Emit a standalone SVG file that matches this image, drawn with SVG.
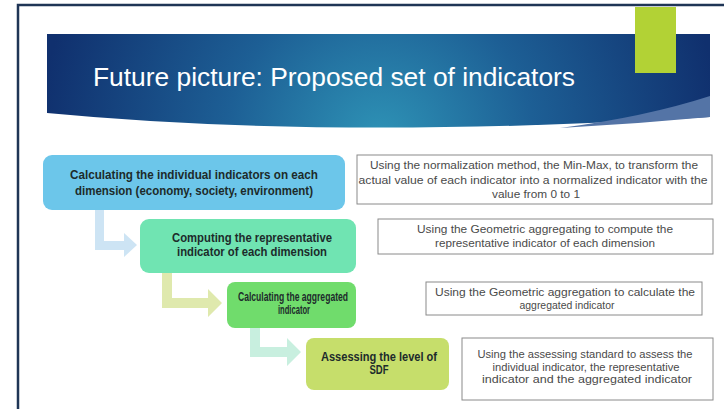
<svg xmlns="http://www.w3.org/2000/svg" width="724" height="409" viewBox="0 0 724 409">
<defs>
<radialGradient id="bg" gradientUnits="userSpaceOnUse" cx="380" cy="140" r="340">
<stop offset="0" stop-color="#2e93b6"/>
<stop offset="0.45" stop-color="#1d5f95"/>
<stop offset="1" stop-color="#10306e"/>
</radialGradient>
<style>
.step{font-family:"Liberation Sans",Arial,sans-serif;font-size:12px;font-weight:bold;fill:#1d2b2b;text-anchor:middle}
.desc{font-family:"Liberation Sans",Arial,sans-serif;font-size:11px;fill:#4a4a4a;text-anchor:middle}
.dbox{fill:#ffffff;stroke:#8a8a8a;stroke-width:1}
</style>
</defs>
<rect width="724" height="409" fill="#ffffff"/>
<path d="M18,409 L18,5 L724,5" fill="none" stroke="#1f3556" stroke-width="2.5"/>
<g id="banner">
<path d="M47,34 L710,34 L710,117 Q330,140 47,113 Z" fill="url(#bg)"/>
<path d="M560,128 Q645,117 710,96 L710,117 Q635,124 560,128 Z" fill="#5474a6"/>
<rect x="635" y="7" width="41" height="66" fill="#b2d235"/>
<text x="93" y="86" font-family="'Liberation Sans',Arial,sans-serif" font-size="26" fill="#ffffff" textLength="482" lengthAdjust="spacingAndGlyphs">Future picture: Proposed set of indicators</text>
</g>
<g id="connectors">
<path d="M95,210 L104,210 L104,241 L124,241 L124,233 L137,245 L124,257 L124,250 L95,250 Z" fill="#cde4f4"/>
<path d="M162,273 L172,273 L172,298 L208,298 L208,289 L222,303 L208,317 L208,308 L162,308 Z" fill="#dfe9ad"/>
<path d="M250,328 L260,328 L260,347 L287,347 L287,338 L301,352 L287,366 L287,357 L250,357 Z" fill="#c8efdf"/>
</g>
<g id="step1">
<rect x="43" y="155" width="302" height="55" rx="9" fill="#6cc6ea"/>
<text class="step" x="194" y="179" textLength="248" lengthAdjust="spacingAndGlyphs">Calculating the individual indicators on each</text>
<text class="step" x="194" y="195" textLength="238" lengthAdjust="spacingAndGlyphs">dimension (economy, society, environment)</text>
</g>
<g id="step2">
<rect x="140" y="219" width="216" height="54" rx="9" fill="#70e4b2"/>
<text class="step" x="252" y="242" textLength="160" lengthAdjust="spacingAndGlyphs">Computing the representative</text>
<text class="step" x="252" y="256" textLength="150" lengthAdjust="spacingAndGlyphs">indicator of each dimension</text>
</g>
<g id="step3">
<rect x="227" y="282" width="129" height="46" rx="8" fill="#70dc6c"/>
<text class="step" x="293" y="301" textLength="110" lengthAdjust="spacingAndGlyphs">Calculating the aggregated</text>
<text class="step" x="294" y="314" textLength="32" lengthAdjust="spacingAndGlyphs">indicator</text>
</g>
<g id="step4">
<rect x="306" y="338" width="143" height="52" rx="8" fill="#c6de6b"/>
<text class="step" x="379" y="361" textLength="116" lengthAdjust="spacingAndGlyphs">Assessing the level of</text>
<text class="step" x="379" y="374" textLength="19" lengthAdjust="spacingAndGlyphs">SDF</text>
</g>
<g id="desc1">
<rect class="dbox" x="357" y="155" width="355" height="49"/>
<text class="desc" x="534" y="169" textLength="328" lengthAdjust="spacingAndGlyphs">Using the normalization method, the Min-Max, to transform the</text>
<text class="desc" x="533" y="184" textLength="349" lengthAdjust="spacingAndGlyphs">actual value of each indicator into a normalized indicator with the</text>
<text class="desc" x="536" y="198" textLength="88" lengthAdjust="spacingAndGlyphs">value from 0 to 1</text>
</g>
<g id="desc2">
<rect class="dbox" x="378" y="219" width="335" height="35"/>
<text class="desc" x="545" y="233" textLength="256" lengthAdjust="spacingAndGlyphs">Using the Geometric aggregating to compute the</text>
<text class="desc" x="545" y="247" textLength="220" lengthAdjust="spacingAndGlyphs">representative indicator of each dimension</text>
</g>
<g id="desc3">
<rect class="dbox" x="426" y="282" width="276" height="33"/>
<text class="desc" x="565" y="296" textLength="260" lengthAdjust="spacingAndGlyphs">Using the Geometric aggregation to calculate the</text>
<text class="desc" x="567" y="309" textLength="95" lengthAdjust="spacingAndGlyphs">aggregated indicator</text>
</g>
<g id="desc4">
<rect class="dbox" x="462" y="338" width="251" height="62"/>
<text class="desc" x="585" y="358" textLength="215" lengthAdjust="spacingAndGlyphs">Using the assessing standard to assess the</text>
<text class="desc" x="586" y="371" textLength="187" lengthAdjust="spacingAndGlyphs">individual indicator, the representative</text>
<text class="desc" x="587" y="383" textLength="210" lengthAdjust="spacingAndGlyphs">indicator and the aggregated indicator</text>
</g>
</svg>
